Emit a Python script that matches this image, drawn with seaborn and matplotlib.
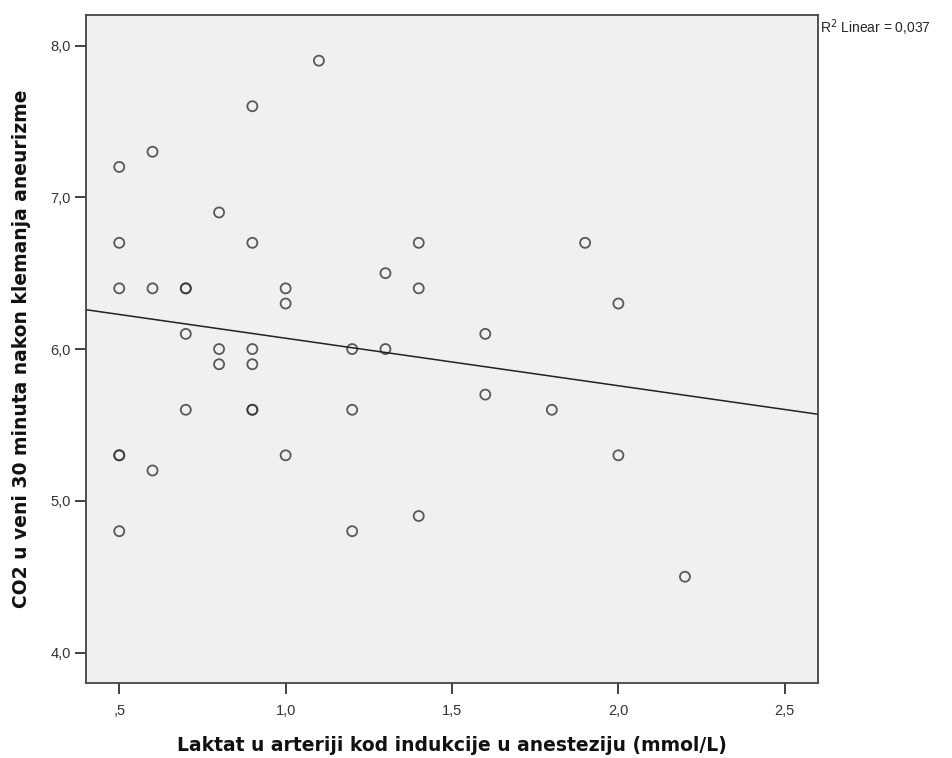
import numpy as np
import pandas as pd
import matplotlib
matplotlib.use("Agg")
import matplotlib.pyplot as plt
import matplotlib.ticker as mticker
import seaborn as sns

# lactate (x) and CO2 (y) values
laktat = [0.5, 0.5, 0.5, 0.5, 0.5, 0.5,
          0.6, 0.6, 0.6,
          0.7, 0.7, 0.7, 0.7,
          0.8, 0.8, 0.8,
          0.9, 0.9, 0.9, 0.9, 0.9, 0.9,
          1.0, 1.0, 1.0,
          1.1,
          1.2, 1.2, 1.2,
          1.3, 1.3,
          1.4, 1.4, 1.4,
          1.6, 1.6,
          1.8, 1.9,
          2.0, 2.0,
          2.2]
co2 = [7.2, 6.7, 6.4, 5.3, 5.3, 4.8,
       7.3, 6.4, 5.2,
       6.4, 6.4, 6.1, 5.6,
       6.9, 6.0, 5.9,
       7.6, 6.7, 6.0, 5.9, 5.6, 5.6,
       6.4, 6.3, 5.3,
       7.9,
       6.0, 5.6, 4.8,
       6.5, 6.0,
       6.7, 6.4, 4.9,
       6.1, 5.7,
       5.6, 6.7,
       6.3, 5.3,
       4.5]

x_ticks = [0.5, 1.0, 1.5, 2.0, 2.5]
y_ticks = [4.0, 5.0, 6.0, 7.0, 8.0]

df = pd.DataFrame({"laktat": laktat, "co2": co2})

sns.set_style("ticks")
plt.rcParams["font.family"] = ["Liberation Sans", "DejaVu Sans"]

fig = plt.figure(figsize=(9.52, 7.58), dpi=100)
ax = fig.add_axes([0.0903, 0.099, 0.769, 0.881])
ax.set_facecolor("#f0f0f0")
# limits first so the fit line spans the whole frame
ax.set_xlim(0.4, 2.6)
ax.set_ylim(3.8, 8.2)

sns.regplot(data=df, x="laktat", y="co2", ax=ax, ci=None, truncate=False,
            scatter_kws=dict(s=52, facecolors="none", edgecolors="#333333", linewidths=1.3),
            line_kws=dict(color="#222222", lw=1.1))

ax.set_xlim(0.4, 2.6)
ax.set_ylim(3.8, 8.2)
ax.set_xticks(x_ticks)
ax.set_yticks(y_ticks)


def comma_fmt(v, pos):
    s = f"{v:.1f}".replace(".", ",")
    if s.startswith("0,"):
        s = s[1:]
    return s


ax.xaxis.set_major_formatter(mticker.FuncFormatter(comma_fmt))
ax.yaxis.set_major_formatter(mticker.FuncFormatter(comma_fmt))
ax.tick_params(direction="out", length=8, width=1.3, color="#333333",
               labelsize=10.5, labelcolor="#333333")
ax.tick_params(axis="x", pad=7)
ax.tick_params(axis="y", pad=3)
for sp in ax.spines.values():
    sp.set_color("#444444")
    sp.set_linewidth(1.3)

ax.set_xlabel("Laktat u arteriji kod indukcije u anesteziju (mmol/L)",
              fontsize=13.5, fontweight="bold", family="DejaVu Sans",
              color="#111111", labelpad=13)
ax.set_ylabel("CO2 u veni 30 minuta nakon klemanja aneurizme",
              fontsize=13.5, fontweight="bold", family="DejaVu Sans",
              color="#111111", labelpad=14)

fig.text(0.861, 0.963, "R$^2$ Linear = 0,037", fontsize=10, ha="left", va="center")

fig.savefig("out.png", dpi=100)
